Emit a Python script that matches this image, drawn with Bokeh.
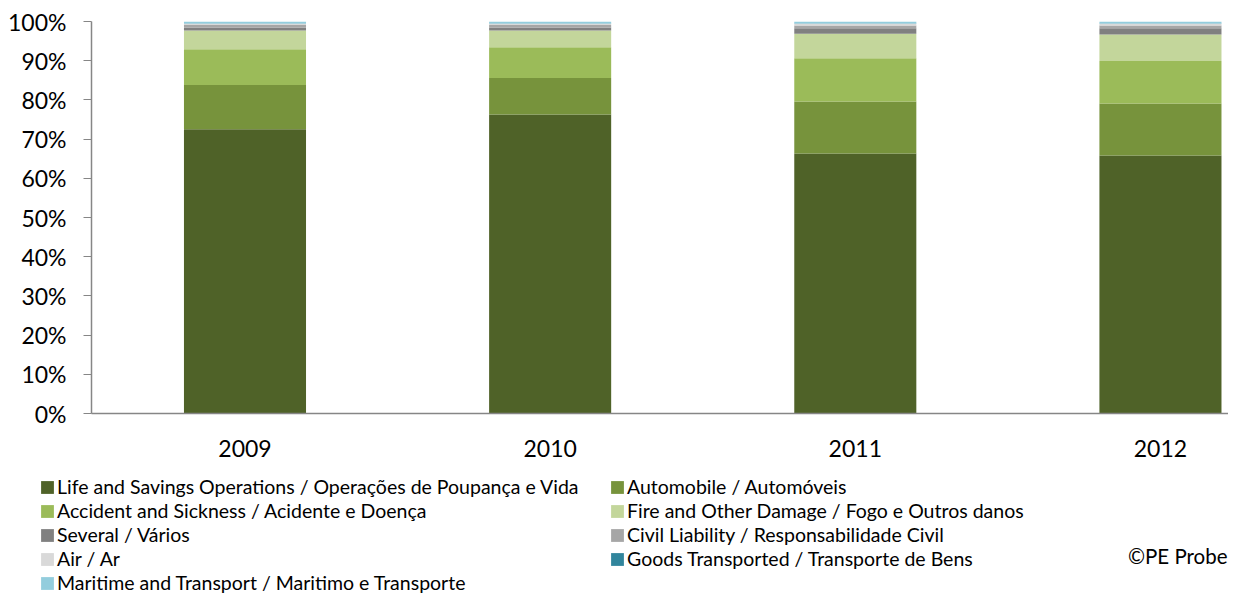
from bokeh.plotting import figure
from bokeh.layouts import column, row
from bokeh.models import (ColumnDataSource, Legend, LegendItem, FixedTicker,
                          Range1d, NumeralTickFormatter, Label)
from bokeh.embed import file_html
from bokeh.resources import INLINE

years = ["2009", "2010", "2011", "2012"]
series_names = [
    "Life and Savings Operations / Operações de Poupança e Vida",
    "Automobile / Automóveis",
    "Accident and Sickness / Acidente e Doença",
    "Fire and Other Damage / Fogo e Outros danos",
    "Several / Vários",
    "Civil Liability / Responsabilidade Civil",
    "Air / Ar",
    "Goods Transported / Transporte de Bens",
    "Maritime and Transport / Maritimo e Transporte",
]
life = [72.5, 76.3, 66.3, 65.8]
automobile = [11.3, 9.3, 13.3, 13.3]
accident = [9.1, 7.8, 11.0, 10.8]
fire = [4.8, 4.3, 6.3, 6.8]
several = [0.8, 0.8, 1.4, 1.6]
civil = [0.6, 0.6, 0.7, 0.7]
air = [0.3, 0.3, 0.4, 0.4]
goods = [0.1, 0.1, 0.1, 0.1]
maritime = [0.5, 0.5, 0.5, 0.5]
colors = ["#4F6228", "#77933C", "#9BBB59", "#C3D69B", "#808080",
          "#A6A6A6", "#D9D9D9", "#31859C", "#93CDDD"]

values = [life, automobile, accident, fire, several, civil, air, goods, maritime]
keys = ["s%d" % i for i in range(len(values))]

xs = list(range(len(years)))
data = {"x": xs}
for k, v in zip(keys, values):
    data[k] = [a / 100.0 for a in v]
source = ColumnDataSource(data)

FONT = "Lato"
W = 1228

p = figure(width=W, height=462, output_backend="svg", toolbar_location=None,
           x_range=Range1d(-0.503, 3.223), y_range=Range1d(0, 1),
           min_border_left=91, min_border_right=0, min_border_top=21,
           min_border_bottom=49)
p.outline_line_color = None
p.grid.visible = False

p.vbar_stack(keys, x="x", width=0.40, source=source, color=colors,
             line_color=None)

# Axes
p.yaxis.ticker = FixedTicker(ticks=[i / 10 for i in range(11)])
p.yaxis.formatter = NumeralTickFormatter(format="0%")
p.yaxis.axis_line_color = "#868686"
p.yaxis.axis_line_width = 1.5
p.yaxis.major_tick_line_color = "#868686"
p.yaxis.major_tick_in = 0
p.yaxis.major_tick_out = 8
p.yaxis.minor_tick_line_color = None
p.yaxis.major_label_text_font = FONT
p.yaxis.major_label_text_font_size = "23px"
p.yaxis.major_label_text_color = "#000000"
p.yaxis.major_label_standoff = 17

p.xaxis.ticker = FixedTicker(ticks=xs)
p.xaxis.major_label_overrides = {i: y for i, y in enumerate(years)}
p.xaxis.axis_line_color = "#868686"
p.xaxis.axis_line_width = 1.5
p.xaxis.major_tick_line_color = None
p.xaxis.minor_tick_line_color = None
p.xaxis.major_label_text_font = FONT
p.xaxis.major_label_text_font_size = "23px"
p.xaxis.major_label_text_color = "#000000"
p.xaxis.major_label_standoff = 20

# Legend panel below the chart
LH = 132
lf = figure(width=W, height=LH, output_backend="svg", toolbar_location=None,
            x_range=Range1d(0, W), y_range=Range1d(0, LH),
            x_axis_type=None, y_axis_type=None,
            min_border=0, min_border_left=0, min_border_right=0,
            min_border_top=0, min_border_bottom=0)
lf.grid.visible = False
lf.outline_line_color = None

dummies = [lf.vbar(x=[-1000], top=[-1000], bottom=[-1001], width=1, color=c,
                   line_color=None) for c in colors]
items = [LegendItem(label=n, renderers=[r]) for n, r in zip(series_names, dummies)]
common = dict(label_text_font=FONT, label_text_font_size="19.5px",
              label_text_color="#000000",
              glyph_width=16, glyph_height=16, label_standoff=2,
              spacing=1, label_height=19, padding=0, margin=0,
              border_line_color=None, background_fill_alpha=0)
legend1 = Legend(items=items[0::2], location=(39, 0), **common)
legend2 = Legend(items=items[1::2], location=(609, 24), **common)
lf.add_layout(legend1, "center")
lf.add_layout(legend2, "center")

lf.add_layout(Label(x=1227, y=39, x_units="screen", y_units="screen",
                    text="©PE Probe", text_font=FONT, text_font_size="20.5px",
                    text_align="right", text_baseline="middle",
                    text_color="#000000"))

layout = column(p, row(lf), spacing=0)
open("out.html", "w").write(file_html(layout, INLINE))
